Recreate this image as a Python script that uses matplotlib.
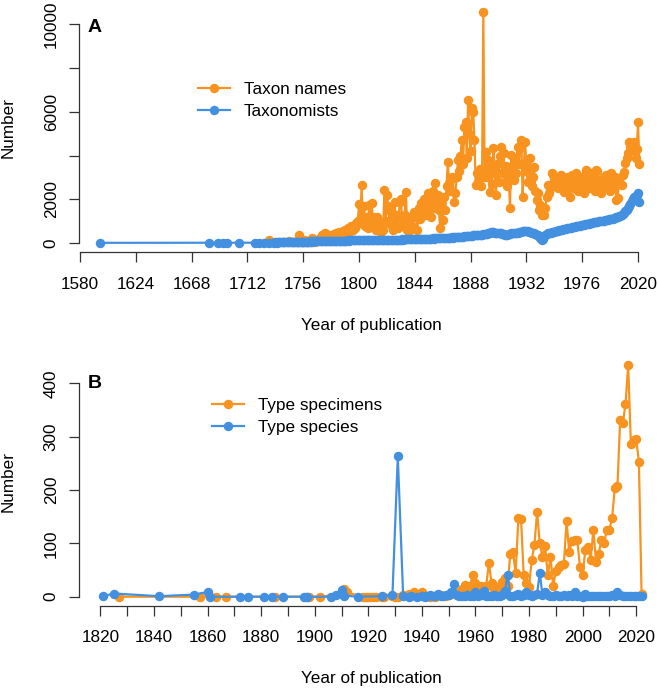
import matplotlib
matplotlib.use('Agg')
import matplotlib.pyplot as plt

plt.rcParams['font.family'] = ['Liberation Sans', 'DejaVu Sans']

ORANGE = '#F7931E'
BLUE = '#4490E0'
AXCOL = '#333333'

# ---- Panel A: taxon names and taxonomists per year ----
names_years = [1729, 1735, 1740, 1745, 1749, 1751, 1752] + list(range(1753, 2022))
names_counts = [130, 60, 40, 80, 50, 90, 40,
                370, 60, 90, 40, 120, 60, 80,
                50, 100, 70, 215, 90, 60, 120, 80, 150, 200,
                260, 366, 420, 440, 300, 250, 380, 200, 300, 350,
                400, 300, 443, 380, 500, 350, 450, 550, 400, 600,
                594, 700, 500, 650, 777, 600, 800, 700, 900, 1000,
                1780, 900, 2650, 1100, 1700, 800, 1200, 700, 1740, 1000,
                1815, 900, 1175, 600, 1200, 700, 1000, 500, 900, 600,
                2423, 1000, 2195, 1692, 900, 1400, 800, 594, 1890, 1100,
                1300, 700, 1890, 2000, 1100, 800, 1300, 2318, 600, 1000,
                594, 1200, 800, 1400, 1203, 1357, 594, 1600, 1100, 1815,
                1400, 2000, 1300, 1700, 2272, 1500, 1900, 1200, 2400, 1600,
                2757, 1900, 2195, 1500, 672, 1800, 1052, 2100, 1500, 2600,
                3718, 2744, 2400, 3000, 2970, 1890, 2300, 3000, 3795, 3300,
                4000, 4710, 3600, 5318, 5546, 3900, 6538, 5000, 4200, 6159,
                6000, 4710, 2652, 3200, 2800, 3400, 2600, 3000, 10576, 3000,
                4175, 3000, 3800, 2345, 3500, 2700, 4330, 3200, 2195, 3600,
                2800, 4000, 4404, 3200, 4100, 2800, 3500, 2600, 3200, 1586,
                4023, 3400, 2900, 3800, 3200, 4404, 3600, 4330, 4710, 2117,
                3600, 4633, 3300, 2800, 3400, 3873, 2600, 3000, 3490, 2400,
                1966, 2300, 1500, 1737, 1300, 1500, 1280, 1600, 2117, 2652,
                2300, 2574, 3187, 3109, 2600, 2800, 3000, 2500, 2900, 3109,
                2700, 2652, 2345, 2900, 2600, 3000, 2117, 2700, 3100, 2500,
                2800, 3187, 2600, 2400, 2900, 3000, 2700, 2300, 3100, 3338,
                2600, 2900, 2500, 3200, 2700, 3000, 2400, 3338, 3300, 2600,
                2900, 2272, 2700, 3000, 2500, 3100, 2600, 2800, 2400, 3187,
                2800, 2600, 3000, 1966, 2044, 2900, 2700, 2652, 3100, 3260,
                3644, 3900, 4100, 4633, 4400, 4481, 4252, 4600, 3900, 4300,
                5519, 3600]

people_years = [1596, 1682, 1689, 1693, 1696, 1705, 1718, 1721, 1725, 1729] + list(range(1733, 2022))
people_counts = [10, 10, 10, 10, 10, 10, 15, 15, 15, 20,
                 20, 25, 20, 30, 25, 30, 35,
                 30, 35, 40, 35, 40, 45, 40, 45, 50, 45,
                 50, 55, 50, 60, 55, 60, 65, 60, 65, 70,
                 65, 70, 75, 70, 75, 80, 75, 80, 85, 80,
                 85, 90, 85, 90, 95, 90, 95, 100, 95, 100,
                 100, 95, 105, 100, 110, 105, 110, 115, 110, 115,
                 115, 120, 115, 120, 125, 120, 125, 130, 125, 130,
                 130, 135, 130, 140, 135, 130, 140, 135, 140, 145,
                 140, 135, 140, 145, 140, 150, 145, 140, 150, 145,
                 150, 155, 150, 145, 155, 150, 155, 160, 150, 155,
                 155, 160, 155, 160, 165, 160, 165, 170, 165, 170,
                 170, 165, 175, 170, 180, 175, 180, 185, 180, 190,
                 185, 190, 195, 190, 200, 195, 205, 200, 210, 205,
                 210, 215, 210, 220, 215, 225, 220, 230, 235, 230,
                 240, 245, 240, 255, 250, 260, 265, 260, 270, 275,
                 280, 290, 285, 300, 310, 305, 320, 330, 325, 340,
                 350, 345, 360, 355, 370, 365, 380, 390, 400, 410,
                 420, 430, 440, 460, 490, 520, 500, 470, 450, 440,
                 450, 440, 460, 430, 400, 380, 370, 390, 410, 430,
                 440, 450, 460, 470, 450, 480, 500, 510, 520, 530,
                 550, 540, 560, 530, 520, 500, 480, 470, 450, 420,
                 390, 350, 300, 220, 160, 200, 300, 380, 430, 450,
                 470, 480, 500, 510, 520, 540, 550, 560, 580, 600,
                 610, 620, 640, 650, 670, 680, 700, 710, 720, 740,
                 750, 760, 780, 790, 800, 820, 830, 840, 860, 870,
                 880, 890, 900, 910, 930, 940, 950, 960, 980, 990,
                 1000, 1010, 1020, 1030, 1040, 1050, 1060, 1080, 1090, 1100,
                 1110, 1130, 1150, 1170, 1190, 1220, 1250, 1280, 1320, 1380,
                 1450, 1520, 1600, 1700, 1800, 1900, 2000, 2100, 2150, 2200,
                 2270, 1890]

# ---- Panel B: type specimens and type species per year ----
specimen_years = [1827, 1857, 1863, 1867, 1885, 1897, 1898, 1902, 1910, 1911, 1912,
                  1918, 1919, 1920, 1921, 1922, 1923, 1925, 1926, 1929, 1930, 1931,
                  1933, 1935, 1937, 1938, 1940, 1941, 1943, 1945, 1947, 1949, 1951,
                  1953, 1954] + list(range(1955, 2023))
specimen_counts = [0, 0, 0, 0, 0, 0, 0, 0, 5, 15, 8,
                   0, 0, 0, 0, 0, 0, 0, 0, 2, 0, 0,
                   3, 5, 8, 3, 9, 2, 0, 0, 3, 2, 5,
                   3, 8,
                   15, 22, 10, 20, 41,
                   25, 15, 20, 10, 20, 64, 25, 15, 10, 20,
                   28, 35, 20, 81, 84, 44, 147, 146, 41, 25,
                   19, 69, 97, 159, 100, 75, 95, 40, 75, 20,
                   48, 55, 60, 62, 141, 84, 104, 106, 106, 56,
                   41, 88, 94, 69, 125, 66, 81, 106, 100, 125,
                   126, 147, 203, 208, 331, 325, 361, 434, 287, 294,
                   295, 253, 5]

species_years = [1821, 1825, 1842, 1855, 1860, 1861, 1872, 1875, 1881, 1884, 1888,
                 1896, 1897, 1906, 1908, 1910, 1911, 1916, 1925, 1929, 1931, 1933,
                 1935, 1936, 1938] + list(range(1940, 2023))
species_counts = [1, 6, 1, 4, 9, 0, 0, 0, 0, 0, 0,
                  0, 0, 0, 3, 12, 2, 0, 1, 3, 263, 2,
                  0, 1, 0,
                  2, 0, 1, 3, 1, 2, 5, 1, 2, 4,
                  3, 8, 24, 4, 1, 2, 1, 3, 2, 1,
                  8, 1, 3, 10, 2, 1, 1, 4, 1, 2,
                  3, 10, 41, 2, 1, 3, 5, 2, 3, 8,
                  3, 2, 4, 6, 44, 4, 8, 3, 2, 1,
                  3, 2, 1, 3, 2, 4, 1, 8, 2, 1,
                  0, 5, 2, 1, 1, 2, 1, 1, 2, 1,
                  1, 3, 2, 8, 3, 1, 2, 1, 2, 1,
                  1, 2, 1]

W, H = 658, 688
fig = plt.figure(figsize=(W / 100, H / 100), dpi=100)


def rect(left, top, right, bottom):
    # pixel box -> figure fraction
    return [left / W, 1 - bottom / H, (right - left) / W, (bottom - top) / H]


FS = 12.3
line_kw = dict(marker='o', markersize=5.8, linewidth=1.6)
leg_kw = dict(loc='upper left', bbox_transform=fig.transFigure, frameon=False,
              fontsize=FS, handlelength=1.9, handletextpad=0.8, labelspacing=0.4,
              borderpad=0, borderaxespad=0)


def style_axis(ax, xb, yb):
    for s in ['top', 'right']:
        ax.spines[s].set_visible(False)
    for s in ['left', 'bottom']:
        ax.spines[s].set_color(AXCOL)
        ax.spines[s].set_linewidth(0.9)
    ax.spines['bottom'].set_bounds(*xb)
    ax.spines['left'].set_bounds(*yb)
    ax.tick_params(axis='both', direction='out', length=7.5, width=0.9,
                   color=AXCOL, labelsize=FS)
    ax.tick_params(axis='x', pad=10)
    ax.tick_params(axis='y', pad=7)
    for lab in ax.get_yticklabels():
        lab.set_rotation(90)
        lab.set_va('center')


# Panel A
axA = fig.add_axes(rect(79, 2.4, 661, 252.3))
axA.plot(names_years, names_counts, color=ORANGE, label='Taxon names', **line_kw)
axA.plot(people_years, people_counts, color=BLUE, label='Taxonomists', **line_kw)
axA.set_xlim(1579.2, 2038.1)
axA.set_ylim(-423, 11000)
axA.set_xticks(range(1580, 2021, 44))
axA.set_yticks(range(0, 10001, 2000))
axA.set_yticklabels(['0', '2000', '', '6000', '', '10000'])
style_axis(axA, (1580, 2020), (0, 10000))
axA.legend(bbox_to_anchor=(198 / W, 1 - 82 / H), **leg_kw)

# Panel B
axB = fig.add_axes(rect(79, 355.7, 663, 606))
axB.plot(specimen_years, specimen_counts, color=ORANGE, label='Type specimens', **line_kw)
axB.plot(species_years, species_counts, color=BLUE, label='Type species', **line_kw)
axB.set_xlim(1812, 2030)
axB.set_ylim(-17.4, 451.8)
axB.set_xticks(range(1820, 2021, 10))
axB.set_xticklabels([str(y) if (y - 1820) % 20 == 0 else '' for y in range(1820, 2021, 10)])
axB.set_yticks(range(0, 401, 100))
style_axis(axB, (1820, 2020), (0, 400))
axB.legend(bbox_to_anchor=(212 / W, 1 - 398 / H), **leg_kw)

# labels
fig.text(95 / W, 1 - 27 / H, 'A', fontsize=14, fontweight='bold', ha='center', va='center')
fig.text(95 / W, 1 - 383 / H, 'B', fontsize=14, fontweight='bold', ha='center', va='center')
fig.text(371 / W, 1 - 326 / H, 'Year of publication', fontsize=FS, ha='center', va='center')
fig.text(371 / W, 1 - 678 / H, 'Year of publication', fontsize=FS, ha='center', va='center')
fig.text(8 / W, 1 - 127 / H, 'Number', fontsize=FS, rotation=90, ha='center', va='center')
fig.text(8 / W, 1 - 481 / H, 'Number', fontsize=FS, rotation=90, ha='center', va='center')

fig.savefig('out.png', dpi=100)
